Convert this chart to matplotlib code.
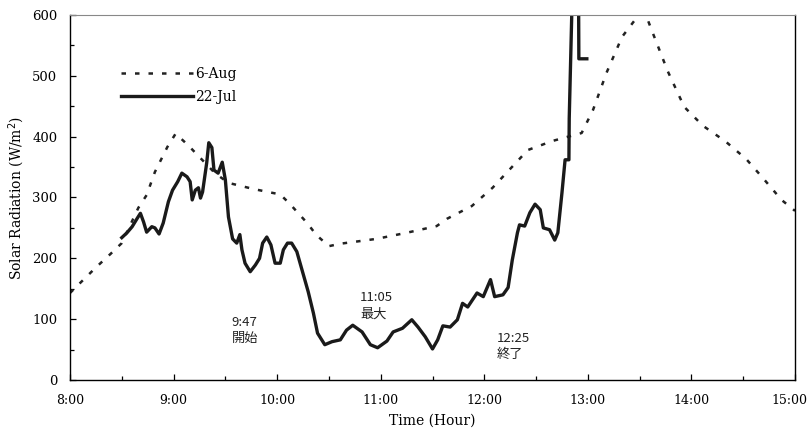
"""
Solar radiation on 6-Aug and 22-Jul, 8:00 to 15:00.
"""
import numpy as np
import matplotlib
matplotlib.use('Agg')
import matplotlib.pyplot as plt
from matplotlib.ticker import MultipleLocator, FuncFormatter
from matplotlib.transforms import ScaledTranslation

# 6-Aug (dashed), time in decimal hours
aug_time = [8.00, 8.25, 8.39, 8.50, 8.66, 8.74, 8.82, 8.94, 9.02, 9.14, 9.23, 9.40,
            9.53, 9.77, 10.03, 10.12, 10.29, 10.38, 10.50, 10.61, 10.96, 11.25, 11.54,
            11.64, 11.88, 12.08, 12.25, 12.42, 12.66, 12.94, 13.05, 13.18, 13.33, 13.50,
            13.56, 13.63, 13.77, 13.93, 14.11, 14.33, 14.53, 14.70, 14.87, 15.00]
aug_rad = [143, 185, 207, 225, 283, 304, 342, 383, 405, 386, 370, 340,
           324, 314, 305, 290, 258, 238, 220, 224, 232, 242, 253,
           265, 286, 316, 347, 378, 393, 406, 444, 505, 564, 602,
           600, 569, 508, 449, 418, 392, 363, 330, 296, 278]

# 22-Jul (solid)
jul_time = [8.50, 8.55, 8.60, 8.65, 8.68, 8.71, 8.74, 8.79, 8.82, 8.86, 8.90, 8.95,
            8.99, 9.04, 9.08, 9.13, 9.16, 9.18, 9.21, 9.24, 9.26, 9.28, 9.32, 9.34,
            9.37, 9.39, 9.43, 9.47, 9.50, 9.53, 9.57, 9.61, 9.64, 9.66, 9.69, 9.74,
            9.79, 9.83, 9.86, 9.90, 9.94, 9.98, 10.03, 10.06, 10.10, 10.14, 10.19,
            10.24, 10.30, 10.35, 10.39, 10.46, 10.53, 10.61, 10.67, 10.73, 10.82,
            10.90, 10.97, 11.06, 11.12, 11.21, 11.30, 11.36, 11.43, 11.50, 11.55,
            11.60, 11.67, 11.74, 11.79, 11.84, 11.93, 11.99, 12.06, 12.10, 12.18,
            12.23, 12.27, 12.32, 12.34, 12.39, 12.44, 12.49, 12.54, 12.57, 12.63,
            12.68, 12.71, 12.75, 12.78, 12.817, 12.82, 12.85, 12.88, 12.91, 12.913,
            12.99]
jul_rad = [234, 242, 252, 266, 274, 260, 243, 252, 250, 240, 258, 293,
           312, 326, 340, 334, 326, 296, 312, 316, 299, 309, 357, 390,
           382, 345, 340, 358, 329, 268, 232, 225, 239, 214, 192, 178,
           189, 200, 225, 235, 222, 192, 192, 214, 225, 225, 211,
           181, 145, 110, 77, 58, 63, 66, 82, 90, 79,
           58, 53, 64, 79, 85, 99, 87, 71, 51, 66,
           89, 87, 99, 126, 120, 143, 137, 165, 137, 140,
           152, 197, 242, 255, 253, 275, 289, 280, 250, 247,
           230, 242, 308, 362, 362, 430, 640, 700, 640, 528,
           528]

notes = [(9.56, 82, "9:47\n開始"), (10.80, 122, "11:05\n最大"), (12.12, 55, "12:25\n終了")]

plt.rcParams['font.family'] = ['DejaVu Serif']

fig = plt.figure(figsize=(8.11, 4.32), dpi=100)
ax = fig.add_axes([0.0863, 0.1204, 0.8940, 0.8449])

ax.plot(aug_time, aug_rad, color='#222222', lw=1.8, dashes=(1.8, 3.6), label='6-Aug')
ax.plot(jul_time, jul_rad, color='#1a1a1a', lw=2.4, label='22-Jul')

for x, y, s in notes:
    ax.text(x, y, s, ha='left', va='center', fontsize=9.5, linespacing=1.3,
            family=['Noto Sans CJK JP', 'DejaVu Sans'], color='#222222')

ax.set_xlim(8, 15)
ax.set_ylim(0, 600)
ax.xaxis.set_major_locator(MultipleLocator(1))
ax.xaxis.set_minor_locator(MultipleLocator(0.5))
ax.yaxis.set_major_locator(MultipleLocator(100))
ax.yaxis.set_minor_locator(MultipleLocator(50))
ax.xaxis.set_major_formatter(FuncFormatter(lambda v, p: '%d:00' % int(round(v))))
ax.tick_params(which='both', direction='in', top=False, right=False)
ax.tick_params(axis='x', which='major', length=4, width=0.9, pad=10, labelsize=9)
ax.tick_params(axis='y', which='major', length=4, width=0.9, pad=9, labelsize=9.5)
ax.tick_params(which='minor', length=3, width=0.9)

ax.spines['top'].set_color('#888888')
for side in ['left', 'bottom', 'right']:
    ax.spines[side].set_linewidth(1.0)

ax.set_xlabel('Time (Hour)', fontsize=10, labelpad=5)
ax.set_ylabel('Solar Radiation (W/m$^2$)', fontsize=10, labelpad=4)

ax.legend(loc='upper left', bbox_to_anchor=(0.063, 0.872), frameon=False, fontsize=10,
          handlelength=5.2, handletextpad=0.1, labelspacing=0.65, borderaxespad=0)

# nudge the "15:00" label in a little so it stays inside the figure
fig.canvas.draw()
last = ax.xaxis.get_major_ticks()[-1].label1
for tk in ax.xaxis.get_major_ticks():
    if tk.label1.get_text() == '15:00':
        last = tk.label1
last.set_transform(last.get_transform() + ScaledTranslation(-4 / 72, 0, fig.dpi_scale_trans))

fig.savefig('out.png', dpi=100)
